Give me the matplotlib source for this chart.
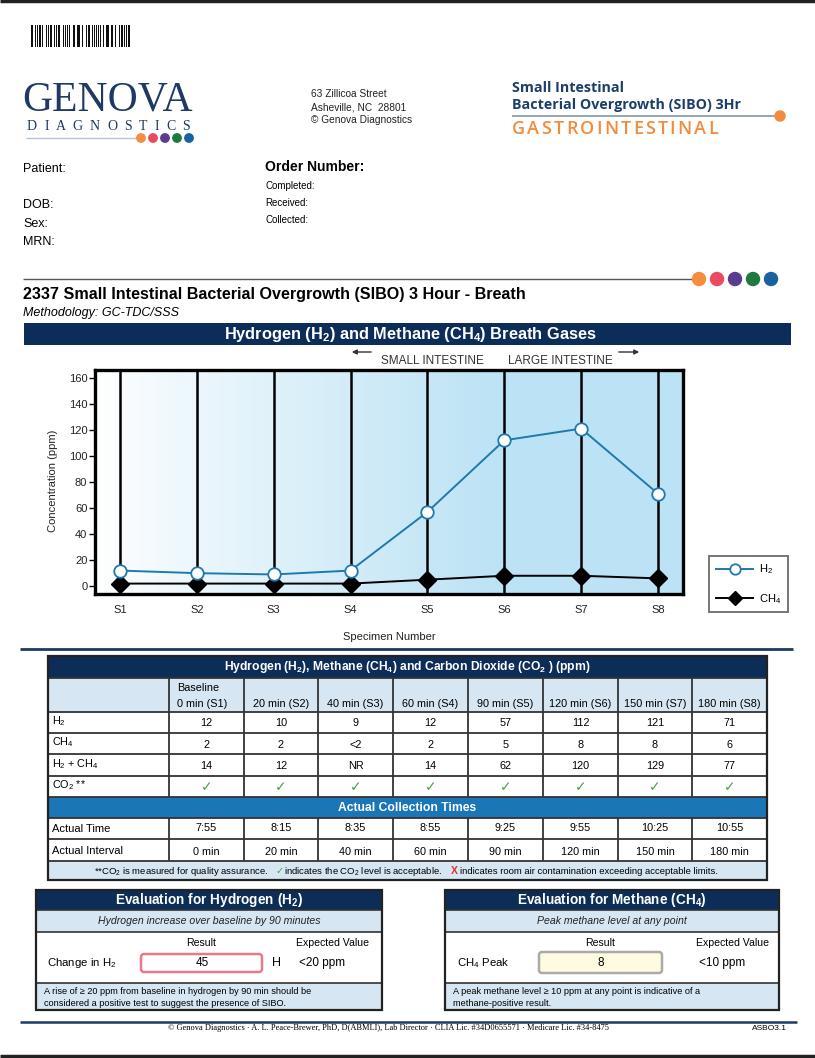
"""Genova SIBO 3hr breath test report page, redrawn with matplotlib."""

import matplotlib

matplotlib.use("Agg")
import matplotlib.pyplot as plt
import numpy as np
from matplotlib.patches import Circle, FancyBboxPatch, Rectangle
from matplotlib import font_manager

# ---- data ----------------------------------------------------------------
specimens = ["S1", "S2", "S3", "S4", "S5", "S6", "S7", "S8"]
h2_ppm = [12, 10, 9, 12, 57, 112, 121, 71]
ch4_ppm = [2, 2, 2, 2, 5, 8, 8, 6]  # S3 reported "<2", plotted at 2

col_heads = ["0 min (S1)", "20 min (S2)", "40 min (S3)", "60 min (S4)",
             "90 min (S5)", "120 min (S6)", "150 min (S7)", "180 min (S8)"]
h2_text = ["12", "10", "9", "12", "57", "112", "121", "71"]
ch4_text = ["2", "2", "<2", "2", "5", "8", "8", "6"]
sum_text = ["14", "12", "NR", "14", "62", "120", "129", "77"]
co2_ok = [True, True, True, True, True, True, True, True]
actual_time = ["7:55", "8:15", "8:35", "8:55", "9:25", "9:55", "10:25", "10:55"]
actual_interval = ["0 min", "20 min", "40 min", "60 min",
                   "90 min", "120 min", "150 min", "180 min"]
h2_change = 45
ch4_peak = 8

# ---- style ---------------------------------------------------------------
NAVY = "#0d2d59"
BAND = "#1b76b8"
LIGHT = "#d6e6f2"
H2_COLOR = "#1f7aab"
DOTS = ["#f58d3d", "#ea4b5f", "#5b3b91", "#1f7a40", "#17629f"]

plt.rcParams["font.family"] = ["Liberation Sans", "DejaVu Sans"]
plt.rcParams["mathtext.fontset"] = "custom"
plt.rcParams["mathtext.rm"] = "Liberation Sans"
plt.rcParams["mathtext.it"] = "Liberation Sans:italic"
plt.rcParams["mathtext.bf"] = "Liberation Sans:bold"

_names = {f.name for f in font_manager.fontManager.ttflist}
HAS_NARROW = "Liberation Sans Narrow" in _names
NARROW = (["Liberation Sans Narrow"] if HAS_NARROW else ["Liberation Sans"]) + ["DejaVu Sans"]

W, H = 815, 1058
fig = plt.figure(figsize=(W / 100, H / 100), dpi=100)
pg = fig.add_axes([0, 0, 1, 1])
pg.set_xlim(0, W)
pg.set_ylim(H, 0)
pg.axis("off")
renderer = fig.canvas.get_renderer()


def txt(x, y, s, size=8, **kw):
    kw.setdefault("va", "center")
    kw.setdefault("ha", "left")
    return pg.text(x, y, s, fontsize=size, **kw)


def tracked(x0, x1, y, s, size, **kw):
    """Spread the letters of s evenly between x0 and x1 (letter-spaced caps)."""
    items = [txt(0, y, ch, size, **kw) for ch in s]
    widths = [t.get_window_extent(renderer).width for t in items]
    gap = (x1 - x0 - sum(widths)) / (len(s) - 1)
    pos = x0
    for t, w in zip(items, widths):
        t.set_x(pos)
        pos += w + gap


def box(x0, y0, x1, y1, fc="none", ec="none", lw=1.0, z=1):
    pg.add_patch(Rectangle((x0, y0), x1 - x0, y1 - y0, fc=fc, ec=ec, lw=lw, zorder=z))


def hline(x0, x1, y, color="#333333", lw=1.0, z=3):
    pg.plot([x0, x1], [y, y], color=color, lw=lw, zorder=z, solid_capstyle="butt")


def vline(x, y0, y1, color="#333333", lw=1.0, z=3):
    pg.plot([x, x], [y0, y1], color=color, lw=lw, zorder=z, solid_capstyle="butt")


# ---- page frame ----------------------------------------------------------
hline(0, W, 1, color="#222222", lw=2.5)
hline(0, W, 1056, color="#222222", lw=2.5)

# barcode (decorative)
pattern = "110101110100110110101110010110100110111010010110101101100101110110100101110111"
bx = 31.0
for ch in pattern:
    if ch == "1":
        box(bx, 25, bx + 1.0, 47, fc="#111111")
    bx += 1.27

# logo
txt(22, 100, "GENOVA", 30, family=["Liberation Serif"], color="#1f3864")
tracked(27, 190, 126, "DIAGNOSTICS", 10, family=["Liberation Serif"], color="#1f3864")
hline(26, 140, 138, color="#b7c3d3", lw=1.0)
for i, c in enumerate(DOTS):
    pg.add_patch(Circle((141 + i * 12, 138), 4.2, color=c, zorder=4))

# address
for i, s in enumerate(["63 Zillicoa Street", "Asheville, NC  28801", "\u00a9 Genova Diagnostics"]):
    txt(311, 94 + i * 13, s, 7.3, color="#222222")

# test title top right
txt(512, 88, "Small Intestinal", 10.3, family=["Open Sans", "DejaVu Sans"], weight="bold", color="#1d3d6b")
txt(512, 105, "Bacterial Overgrowth (SIBO) 3Hr", 10.3, family=["Open Sans", "DejaVu Sans"],
    weight="bold", color="#1d3d6b")
hline(512, 776, 116, color="#8393ab", lw=1.2)
pg.add_patch(Circle((780, 116), 5, color="#f28b3c", zorder=4))
tracked(512, 718, 129, "GASTROINTESTINAL", 13, family=["Open Sans", "DejaVu Sans"],
        weight="semibold", color="#f28b3c")

# patient block
txt(23, 169, "Patient:", 9)
txt(23, 205, "DOB:", 9)
txt(23, 224, "Sex:", 9)
txt(23, 242, "MRN:", 9)
txt(265, 167, "Order Number:", 10, weight="bold")
txt(265, 186, "Completed:", 7)
txt(265, 203, "Received:", 7)
txt(265, 220, "Collected:", 7)

# section heading
hline(23, 692, 279, color="#555555", lw=1.0)
for i, c in enumerate(DOTS):
    pg.add_patch(Circle((699 + i * 18, 279), 6.5, color=c, zorder=4))
txt(23, 295, "2337 Small Intestinal Bacterial Overgrowth (SIBO) 3 Hour - Breath",
    12 if HAS_NARROW else 11.6, family=NARROW, weight="bold")
txt(23, 313, "Methodology: GC-TDC/SSS", 9, family=NARROW, style="italic")

box(24, 323, 791, 345, fc=NAVY)
txt(410, 334, r"Hydrogen (H$_\mathbf{2}$) and Methane (CH$_\mathbf{4}$) Breath Gases",
    12.5 if HAS_NARROW else 11.8, family=NARROW, weight="bold", color="white", ha="center")

# intestine arrows
txt(432, 361, "SMALL INTESTINE", 8.5, family=NARROW, color="#333333", ha="center")
txt(560, 361, "LARGE INTESTINE", 8.5, family=NARROW, color="#333333", ha="center")
pg.annotate("", xy=(349, 352), xytext=(374, 352),
            arrowprops=dict(arrowstyle="-|>", color="#333333", lw=1.0, mutation_scale=7))
pg.annotate("", xy=(642, 352), xytext=(616, 352),
            arrowprops=dict(arrowstyle="-|>", color="#333333", lw=1.0, mutation_scale=7))

# ---- chart ---------------------------------------------------------------
ax = fig.add_axes([95 / W, 1 - 594 / H, (683 - 95) / W, (594 - 370) / H])
x = np.arange(len(specimens))
xlo, xhi = -0.325, len(specimens) - 1 + 0.325
ylo, yhi = -6, 166
ax.set_xlim(xlo, xhi)
ax.set_ylim(ylo, yhi)

grad = np.linspace(0, 1, 400)
grad = np.clip(grad / 0.68, 0, 1) ** 0.9
c0 = np.array([1.0, 1.0, 1.0])
c1 = np.array([0.741, 0.890, 0.961])
img = (c0[None, :] * (1 - grad[:, None]) + c1[None, :] * grad[:, None])[None, :, :]
ax.imshow(img, extent=(xlo, xhi, ylo, yhi), aspect="auto", zorder=0)

for xi in x:
    ax.axvline(xi, color="black", lw=1.8, zorder=1)

(h2_line,) = ax.plot(x, h2_ppm, color=H2_COLOR, lw=1.4, marker="o", ms=9,
                     mfc="white", mec=H2_COLOR, mew=1.3, zorder=4, clip_on=False, label=r"H$_2$")
(ch4_line,) = ax.plot(x, ch4_ppm, color="black", lw=1.4, marker="D", ms=9,
                      mfc="black", mec="black", zorder=3, clip_on=False, label=r"CH$_4$")

ax.set_yticks(range(0, 161, 20))
ax.set_xticks(x, specimens)
ax.tick_params(axis="y", length=4, width=1, pad=1.5, labelsize=8, labelcolor="#222222")
ax.tick_params(axis="x", length=0, pad=8, labelsize=8, labelcolor="#222222")
for sp in ax.spines.values():
    sp.set_linewidth(2.4)
    sp.set_color("black")

txt(389, 637, "Specimen Number", 8, ha="center", color="#222222")
txt(53, 481, "Concentration (ppm)", 8, rotation=90, ha="center", color="#222222")

leg = ax.legend(handles=[h2_line, ch4_line], loc="upper left",
                bbox_to_anchor=(709 / W, 1 - 556 / H), bbox_transform=fig.transFigure,
                fontsize=8, frameon=True, fancybox=False, edgecolor="#555555",
                handlelength=3.4, handletextpad=0.5, labelspacing=1.4, borderpad=0.6,
                borderaxespad=0)
leg.get_frame().set_linewidth(1.4)
for hd in leg.legend_handles:
    hd.set_markersize(7.5)

hline(20, 793, 649, color="#1c3a66", lw=2.0)

# ---- results table -------------------------------------------------------
cols = [48, 169, 244, 318, 393, 468, 543, 618, 692, 767]
T0, T_HEAD, T_ROWS = 656, 678, 712
row_y = [712, 733, 754, 776, 797]
band = (797, 818)
time_rows = [818, 839, 861]
T_END = 880
tl, tr = cols[0], cols[-1]

box(tl, T0, tr, T_HEAD, fc=NAVY)
box(tl, T_HEAD, tr, T_ROWS, fc=LIGHT)
box(tl, band[0], tr, band[1], fc=BAND)
box(tl, time_rows[-1], tr, T_END, fc=LIGHT)

txt((tl + tr) / 2, 667,
    r"Hydrogen (H$_\mathbf{2}$), Methane (CH$_\mathbf{4}$) and Carbon Dioxide (CO$_\mathbf{2}$ ) (ppm)",
    8.7, weight="bold", color="white", ha="center")
txt((tl + tr) / 2, 808, "Actual Collection Times", 8.7, weight="bold", color="white", ha="center")

for y in row_y[:-1] + [T_HEAD]:
    hline(tl, tr, y, lw=1.3)
for y in [band[0], band[1], time_rows[1], time_rows[2]]:
    hline(tl, tr, y, lw=1.3)
for cx in cols[1:-1]:
    vline(cx, T_HEAD, band[0], lw=1.3)
    vline(cx, band[1], time_rows[-1], lw=1.3)
pg.add_patch(Rectangle((tl, T0), tr - tl, T_END - T0, fc="none", ec="#222222", lw=1.6, zorder=5))

centers = [(cols[i] + cols[i + 1]) / 2 for i in range(1, len(cols) - 1)]
txt(cols[1] + 8, 688, "Baseline", 7.8)
txt(cols[1] + 8, 704, col_heads[0], 7.8)
for cx, head in zip(centers[1:], col_heads[1:]):
    txt(cx, 704, head, 7.8, ha="center")

labels = [r"H$_2$", r"CH$_4$", r"H$_2$ + CH$_4$", r"CO$_2$ **"]
for (y0, y1), lab in zip(zip(row_y[:-1], row_y[1:]), labels):
    txt(52, (y0 + y1) / 2 - 1, lab, 7.8)
for vals, (y0, y1) in zip([h2_text, ch4_text, sum_text], zip(row_y[:-1], row_y[1:])):
    for cx, v in zip(centers, vals):
        txt(cx, (y0 + y1) / 2 + 1, v, 7.8, ha="center")
for cx, ok in zip(centers, co2_ok):
    txt(cx, (row_y[3] + row_y[4]) / 2 + 1, "\u2713" if ok else "X", 10,
        family=["DejaVu Sans"], color="#3fa547" if ok else "#e0312f", ha="center")

txt(52, 829, "Actual Time", 8)
txt(52, 851, "Actual Interval", 8)
for cx, t, iv in zip(centers, actual_time, actual_interval):
    txt(cx, 828, t, 7.8, ha="center")
    txt(cx, 852, iv, 7.8, ha="center")

txt(94, 871, "**CO$_2$ is measured for quality assurance.", 6.8, family=NARROW)
txt(276, 871, "\u2713", 7, family=["DejaVu Sans"], color="#3fa547")
txt(284, 871, "indicates the CO$_2$ level is acceptable.", 6.8, family=NARROW)
txt(451, 871, "X", 7.5, weight="bold", color="#e0312f")
txt(460, 871, "indicates room air contamination exceeding acceptable limits.", 6.8, family=NARROW)


# ---- evaluation boxes ----------------------------------------------------
def eval_box(x0, x1, title, subtitle, label, label_x, value, value_x, rb, rb_ec, rb_fc,
             expected, exp_x, note, unit=None):
    box(x0, 890, x1, 910, fc=NAVY)
    box(x0, 910, x1, 932, fc=LIGHT)
    box(x0, 983, x1, 1010, fc=LIGHT)
    hline(x0, x1, 910, lw=1.2)
    hline(x0, x1, 932, lw=1.2)
    hline(x0, x1, 983, lw=1.2)
    pg.add_patch(Rectangle((x0, 890), x1 - x0, 120, fc="none", ec="#222222", lw=1.6, zorder=5))
    cx = (x0 + x1) / 2
    txt(cx, 900, title, 9.8, weight="bold", color="white", ha="center")
    txt(cx, 921, subtitle, 7.6, style="italic", ha="center", color="#222222")
    txt((rb[0] + rb[1]) / 2, 943, "Result", 7.6, ha="center")
    txt(exp_x, 943, "Expected Value", 7.6, ha="center")
    txt(label_x, 963, label, 8.2)
    pg.add_patch(FancyBboxPatch((rb[0], rb[2]), rb[1] - rb[0], rb[3] - rb[2],
                                boxstyle="round,pad=0,rounding_size=3",
                                fc=rb_fc, ec=rb_ec, lw=1.8, zorder=4))
    txt(value_x, 963, str(value), 8.5, ha="center", zorder=6)
    if unit:
        txt(rb[1] + 10, 963, unit, 9)
    txt(exp_x - 34, 963, expected, 8.5)
    txt(x0 + 8, 992, note[0], 6.6)
    txt(x0 + 8, 1004, note[1], 6.6)


eval_box(36, 382, r"Evaluation for Hydrogen (H$_\mathbf{2}$)",
         "Hydrogen increase over baseline by 90 minutes",
         r"Change in H$_2$", 47, h2_change, 202, (141, 262, 954, 972), "#e8788a", "white",
         "<20 ppm", 333,
         ["A rise of \u2265 20 ppm from baseline in hydrogen by 90 min should be",
          "considered a positive test to suggest the presence of SIBO."], unit="H")
eval_box(445, 779, r"Evaluation for Methane (CH$_\mathbf{4}$)",
         "Peak methane level at any point",
         r"CH$_4$ Peak", 457, ch4_peak, 601, (539, 662, 952, 973), "#aaaaaa", "#fffbe0",
         "<10 ppm", 733,
         ["A peak methane level \u2265 10 ppm at any point is indicative of a",
          "methane-positive result."])

# ---- footer --------------------------------------------------------------
hline(20, 797, 1022, color="#1c3a66", lw=1.8)
txt(389, 1028, "\u00a9 Genova Diagnostics \u00b7 A. L. Peace-Brewer, PhD, D(ABMLI), Lab Director \u00b7 "
    "CLIA Lic. #34D0655571 \u00b7 Medicare Lic. #34-8475", 6.0, family=["Liberation Serif"],
    ha="center")
txt(787, 1028, "ASBO3.1", 6, ha="right")

fig.savefig("out.png", dpi=100)
